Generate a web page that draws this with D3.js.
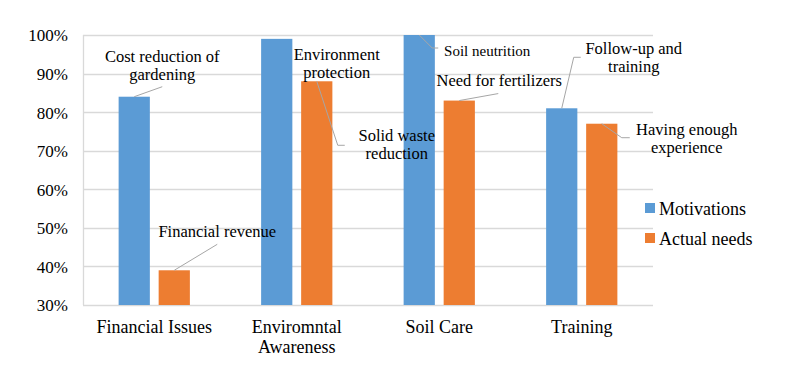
<!DOCTYPE html>
<html>
<head>
<meta charset="utf-8">
<script src="https://cdn.jsdelivr.net/npm/d3@7"></script>
<style>
  body { margin: 0; background: #fff; }
</style>
</head>
<body>
<div id="chart"></div>
<script>
// Chart data
const categories = [["Financial Issues"], ["Enviromntal", "Awareness"], ["Soil Care"], ["Training"]];
const series = ["Motivations", "Actual needs"];
const motivations = [0.84, 0.99, 1.00, 0.81];
const actualNeeds = [0.39, 0.88, 0.83, 0.77];
const yTicks = [0.3, 0.4, 0.5, 0.6, 0.7, 0.8, 0.9, 1.0];

// Annotation text per bar (category index, series index, lines)
const notes = [
    { cat: 0, s: 0, lines: ["Cost reduction of", "gardening"] },
    { cat: 0, s: 1, lines: ["Financial revenue"] },
    { cat: 1, s: 0, lines: ["Environment", "protection"] },
    { cat: 1, s: 1, lines: ["Solid waste", "reduction"] },
    { cat: 2, s: 0, lines: ["Soil neutrition"] },
    { cat: 2, s: 1, lines: ["Need for fertilizers"] },
    { cat: 3, s: 0, lines: ["Follow-up and", "training"] },
    { cat: 3, s: 1, lines: ["Having enough", "experience"] }
];

// label placement relative to the top centre of each bar (layout only)
const noteLayout = [
    { dx: 28, dy: -35, size: 16.5, leader: [[0, 0], [28, -10]] },
    { dx: 43, dy: -33, size: 16.5, leader: [[0, 0], [43, -26]] },
    { dx: 60, dy: 21, size: 16.5, leader: null },
    { dx: 80, dy: 60, size: 16.5, leader: [[0, 0], [21, 64], [28, 64]] },
    { dx: 68, dy: 21, size: 15, leader: [[0, 0], [13, 13], [19, 13]] },
    { dx: 40, dy: -15, size: 16.5, leader: [[0, 0], [39, -7]] },
    { dx: 72, dy: -54, size: 16.5, leader: [[0, 0], [12, -51], [19, -51]] },
    { dx: 85, dy: 11, size: 16.5, leader: [[0, 0], [20, 14], [28, 14]] }
];

const font = '"Liberation Serif", "Times New Roman", serif';
const width = 785, height = 370;
const margin = { top: 35, right: 132, bottom: 65, left: 83 };
const innerW = width - margin.left - margin.right;
const innerH = height - margin.top - margin.bottom;

const svg = d3.select("#chart")
    .append("svg")
    .attr("width", width)
    .attr("height", height)
    .attr("font-family", font);

const g = svg.append("g")
    .attr("transform", `translate(${margin.left},${margin.top})`);

const x0 = d3.scaleBand()
    .domain(d3.range(categories.length))
    .range([0, innerW])
    .paddingInner(0.5)
    .paddingOuter(0.25);

const x1 = d3.scaleBand()
    .domain(d3.range(series.length))
    .range([0, x0.bandwidth()])
    .paddingInner(0.22);

const y = d3.scaleLinear()
    .domain([0.3, 1.0])
    .range([innerH, 0]);

const color = d3.scaleOrdinal().domain(d3.range(2)).range(["#5b9bd5", "#ed7d31"]);

// gridlines
g.append("g")
    .selectAll("line")
    .data(yTicks)
    .enter()
    .append("line")
    .attr("x1", 0)
    .attr("x2", innerW)
    .attr("y1", d => Math.round(y(d)) + 0.5)
    .attr("y2", d => Math.round(y(d)) + 0.5)
    .attr("stroke", "#d9d9d9")
    .attr("stroke-width", 1.3);

g.append("line")
    .attr("x1", 0.5).attr("x2", 0.5)
    .attr("y1", 0).attr("y2", innerH)
    .attr("stroke", "#d9d9d9")
    .attr("stroke-width", 1.3);

// y axis labels
const yAxis = g.append("g")
    .call(d3.axisLeft(y).tickValues(yTicks).tickFormat(d3.format(".0%")).tickSize(0).tickPadding(15));
yAxis.attr("font-family", font).attr("font-size", null);
yAxis.select(".domain").remove();
yAxis.selectAll("text")
    .style("font-family", font)
    .style("font-size", "17px")
    .attr("fill", "#000")
    .attr("dy", "0.35em");

// bars
const values = [motivations, actualNeeds];
const barData = [];
categories.forEach((c, i) => {
    series.forEach((s, j) => barData.push({ cat: i, s: j, v: values[j][i] }));
});

g.selectAll(".bar")
    .data(barData)
    .enter()
    .append("rect")
    .attr("class", "bar")
    .attr("x", d => x0(d.cat) + x1(d.s))
    .attr("y", d => y(d.v))
    .attr("width", x1.bandwidth())
    .attr("height", d => innerH - y(d.v))
    .attr("fill", d => color(d.s));

// x axis labels
const xl = g.append("g").attr("transform", `translate(0,${innerH})`);
categories.forEach((lines, i) => {
    const t = xl.append("text")
        .attr("x", x0(i) + x0.bandwidth() / 2)
        .attr("y", 28)
        .attr("text-anchor", "middle")
        .style("font-family", font)
        .style("font-size", "18px");
    lines.forEach((l, k) => {
        t.append("tspan")
            .attr("x", x0(i) + x0.bandwidth() / 2)
            .attr("dy", k === 0 ? 0 : 20)
            .text(l);
    });
});

// annotations
notes.forEach((n, i) => {
    const lay = noteLayout[i];
    const bx = x0(n.cat) + x1(n.s) + x1.bandwidth() / 2;
    const by = y(values[n.s][n.cat]);
    if (lay.leader) {
        g.append("path")
            .attr("d", d3.line()(lay.leader.map(p => [bx + p[0], by + p[1]])))
            .attr("fill", "none")
            .attr("stroke", "#a6a6a6")
            .attr("stroke-width", 1);
    }
    const t = g.append("text")
        .attr("text-anchor", "middle")
        .attr("x", bx + lay.dx)
        .attr("y", by + lay.dy)
        .style("font-family", font)
        .style("font-size", lay.size + "px");
    n.lines.forEach((l, k) => {
        t.append("tspan")
            .attr("x", bx + lay.dx)
            .attr("dy", k === 0 ? 0 : 18)
            .text(l);
    });
});

// legend
const legend = svg.append("g").attr("transform", "translate(645,203)");
series.forEach((s, i) => {
    const row = legend.append("g").attr("transform", `translate(0,${i * 30})`);
    row.append("rect")
        .attr("width", 10)
        .attr("height", 10)
        .attr("fill", color(i));
    row.append("text")
        .attr("x", 14)
        .attr("y", 12)
        .style("font-family", font)
        .style("font-size", "18px")
        .text(s);
});
</script>
</body>
</html>
